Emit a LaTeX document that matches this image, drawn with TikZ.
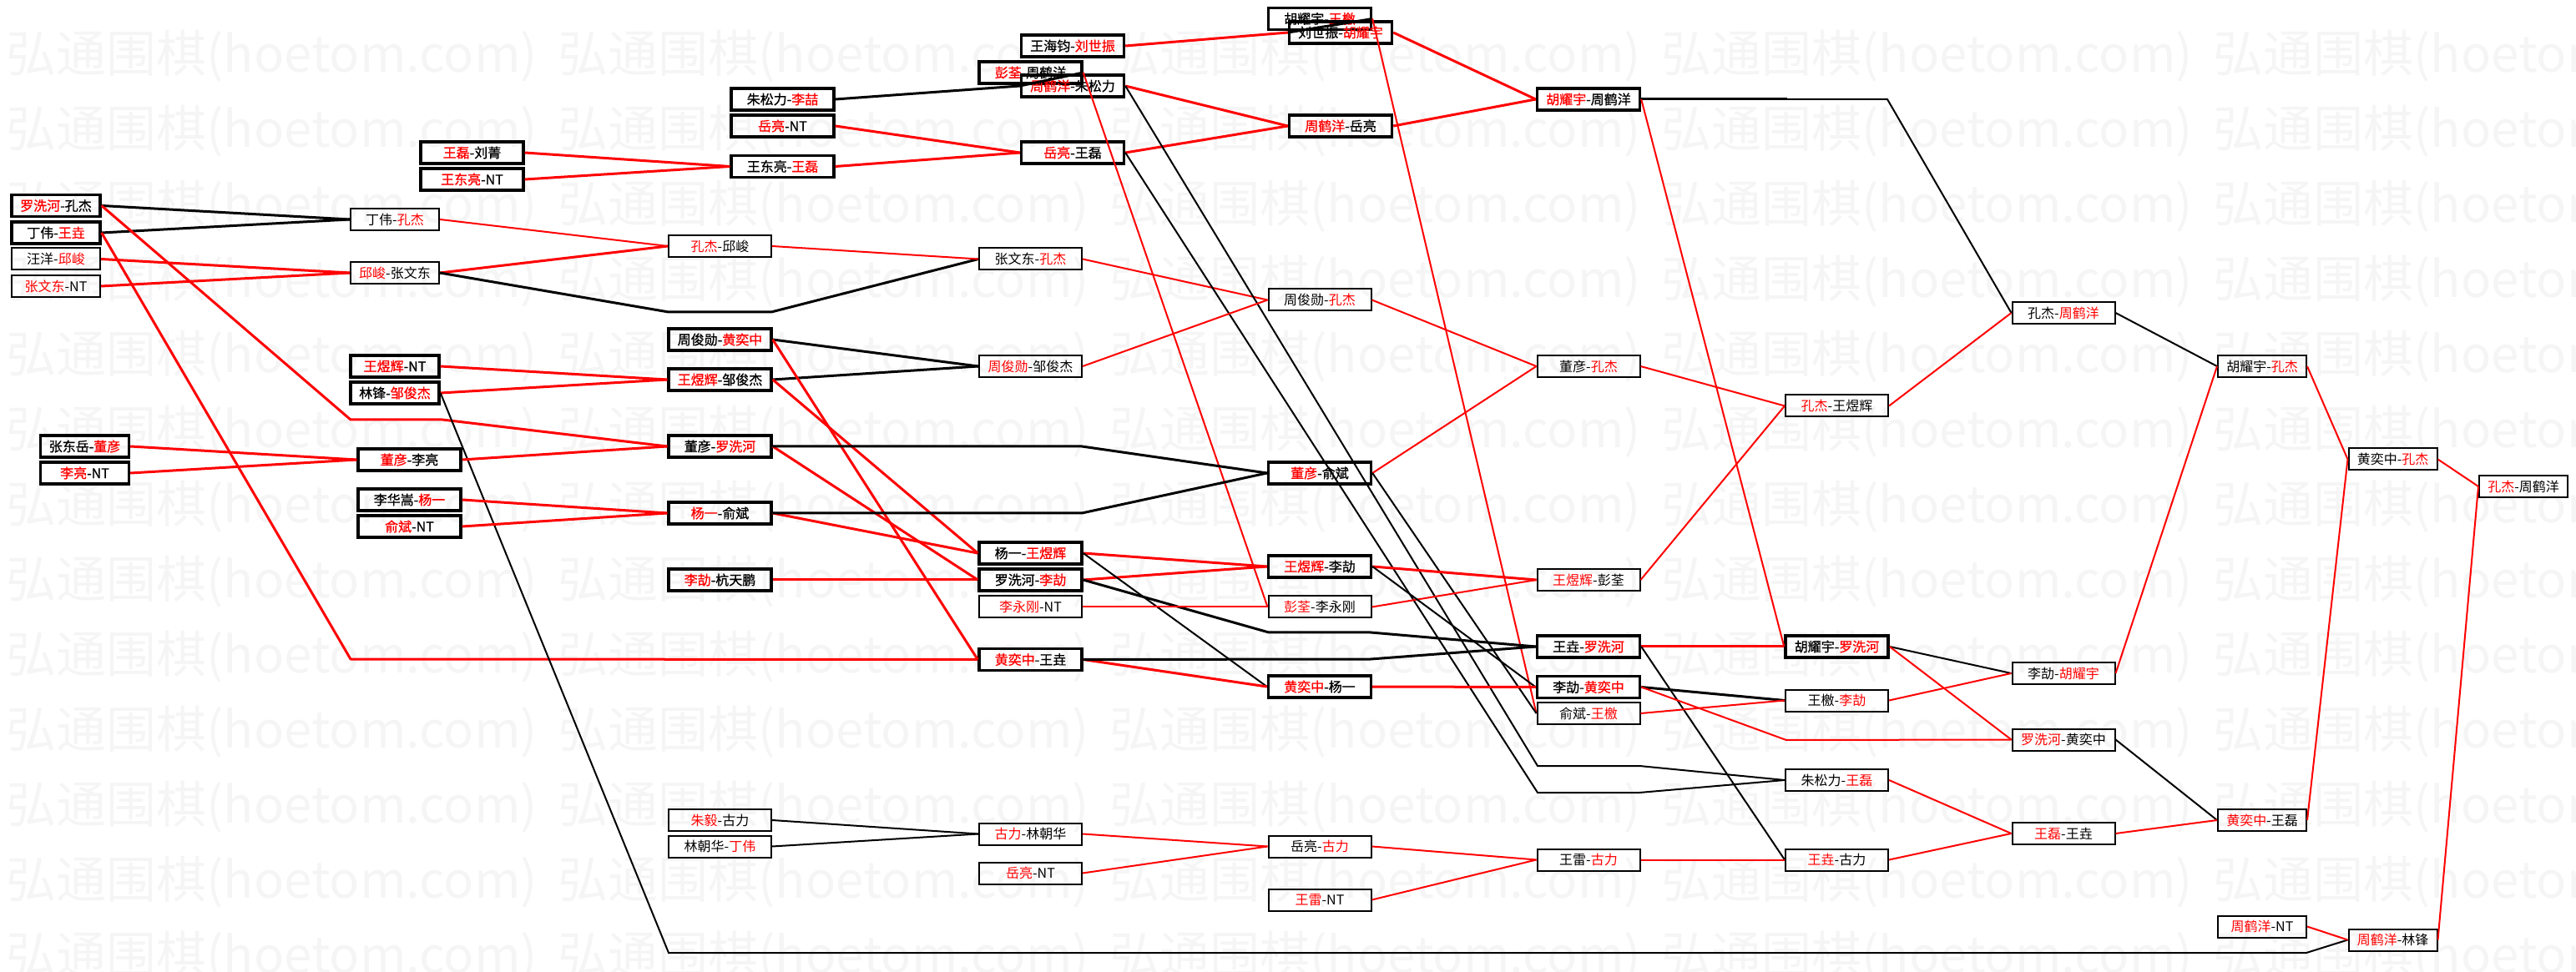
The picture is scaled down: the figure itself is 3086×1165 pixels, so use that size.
\documentclass[tikz,border=0pt]{standalone}
\usepackage{fontspec}
\setmainfont{Noto Sans CJK SC}
\newfontfamily\heavy{Noto Sans CJK SC}[FakeBold=1]
\newcommand{\wn}[1]{\textcolor{red}{#1}}

\begin{document}
\begin{tikzpicture}[x=0.5pt,y=-0.5pt,
  game/.style={draw,line width=1pt,minimum width=53pt,minimum height=13pt,
    inner sep=0pt,font=\fontsize{8}{8}\selectfont},
  bout/.style={game,line width=1.7pt,font=\fontsize{8}{8}\selectfont\heavy},
  wide/.style={minimum width=61.5pt},
  wline/.style={red,line width=1.5pt},
  wthin/.style={red,line width=1pt},
  lline/.style={black,line width=1.5pt},
  lthin/.style={black,line width=1pt},
  wmark/.style={anchor=west,inner sep=0pt,text=black!4,font=\fontsize{30}{30}\selectfont}]
  \useasboundingbox (0,0) rectangle (3086,1165);
  % watermark
  \foreach \i in {0,...,4}
    \foreach \j in {0,...,12}
      \node[wmark] (wm\i\j) at (7+661*\i,67+90*\j) {弘通围棋(hoetom.com)};

  % first column
  \node[bout] (luokong) at (67,246.5) {\wn{罗洗河}-孔杰};
  \node[bout] (dingwang) at (67,279) {丁伟-\wn{王垚}};
  \node[game] (wangqiu) at (67,310.5) {汪洋-\wn{邱峻}};
  \node[game] (zhangnt) at (67,343) {\wn{张文东}-NT};
  \node[bout] (zhangdong) at (101.5,535) {张东岳-\wn{董彦}};
  \node[bout] (lilnt) at (101.5,567) {\wn{李亮}-NT};
  % second column
  \node[bout,wide] (wangliu) at (565.5,183) {\wn{王磊}-刘菁};
  \node[bout,wide] (wangdnt) at (565.5,215) {\wn{王东亮}-NT};
  \node[game] (dingkong) at (473,263) {丁伟-\wn{孔杰}};
  \node[game] (qiuzhang) at (473,327) {\wn{邱峻}-张文东};
  \node[bout] (wangynt) at (473,439) {\wn{王煜辉}-NT};
  \node[bout] (linzou) at (473,471) {林锋-\wn{邹俊杰}};
  \node[bout,wide] (dongli) at (490.5,551) {\wn{董彦}-李亮};
  \node[bout,wide] (liyang) at (490.5,599) {李华嵩-\wn{杨一}};
  \node[bout,wide] (yunt) at (490.5,631) {\wn{俞斌}-NT};
  % third column
  \node[bout,wide] (zhuli) at (937.5,119) {朱松力-\wn{李喆}};
  \node[bout,wide] (yuent) at (937.5,151) {\wn{岳亮}-NT};
  \node[bout,wide] (wdlwl) at (937.5,199.5) {王东亮-\wn{王磊}};
  \node[game,wide] (kongqiu) at (862.5,295) {\wn{孔杰}-邱峻};
  \node[bout,wide] (zhouhuang) at (862.5,407) {周俊勋-\wn{黄奕中}};
  \node[bout,wide] (wangzou) at (862.5,455) {\wn{王煜辉}-邹俊杰};
  \node[bout,wide] (dongluo) at (862.5,535) {董彦-\wn{罗洗河}};
  \node[bout,wide] (yangyu) at (862.5,615) {\wn{杨一}-俞斌};
  \node[bout,wide] (lihang) at (862.5,695) {\wn{李劼}-杭天鹏};
  \node[game,wide] (zhugu) at (862.5,983) {\wn{朱毅}-古力};
  \node[game,wide] (linding) at (862.5,1014.5) {林朝华-\wn{丁伟}};
  % fourth column
  \node[bout,wide] (wangliush) at (1285,55) {王海钧-\wn{刘世振}};
  \node[bout,wide] (pengzhou) at (1234.5,87) {\wn{彭荃}-周鹤洋};
  \node[bout,wide] (zhouzhu) at (1285,103) {\wn{周鹤洋}-朱松力};
  \node[bout,wide] (yuewang) at (1285,183) {\wn{岳亮}-王磊};
  \node[game,wide] (zhangkong) at (1234.5,310.5) {张文东-\wn{孔杰}};
  \node[game,wide] (zhouzou) at (1234.5,439) {\wn{周俊勋}-邹俊杰};
  \node[bout,wide] (yangwang) at (1234.5,663) {杨一-\wn{王煜辉}};
  \node[bout,wide] (luoli) at (1234.5,695) {罗洗河-\wn{李劼}};
  \node[game,wide] (liyongnt) at (1234.5,727.5) {\wn{李永刚}-NT};
  \node[bout,wide] (huangwang) at (1234.5,790.5) {\wn{黄奕中}-王垚};
  \node[game,wide] (gulin) at (1234.5,999.5) {\wn{古力}-林朝华};
  \node[game,wide] (yuent2) at (1234.5,1046.5) {\wn{岳亮}-NT};
  % fifth column
  \node[bout,wide] (huwang) at (1581,22.5) {胡耀宇-\wn{王檄}};
  \node[bout,wide] (liuhu) at (1606,39) {刘世振-\wn{胡耀宇}};
  \node[bout,wide] (zhouyue) at (1606,151) {\wn{周鹤洋}-岳亮};
  \node[game,wide] (zhoukong) at (1581,359.5) {周俊勋-\wn{孔杰}};
  \node[bout,wide] (dongyu) at (1581,567) {\wn{董彦}-俞斌};
  \node[bout,wide] (wangli) at (1581,679) {\wn{王煜辉}-李劼};
  \node[game,wide] (pengli) at (1581,727.5) {\wn{彭荃}-李永刚};
  \node[bout,wide] (huangyang) at (1581,823) {\wn{黄奕中}-杨一};
  \node[game,wide] (yuegu) at (1581,1014.5) {岳亮-\wn{古力}};
  \node[game,wide] (wangleint) at (1581,1078.5) {\wn{王雷}-NT};
  % sixth column
  \node[bout,wide] (huzhou) at (1903,119) {\wn{胡耀宇}-周鹤洋};
  \node[game,wide] (dongkong) at (1903,439) {董彦-\wn{孔杰}};
  \node[game,wide] (wangpeng) at (1903,695) {\wn{王煜辉}-彭荃};
  \node[bout,wide] (wangluo) at (1903,775) {王垚-\wn{罗洗河}};
  \node[bout,wide] (lihuang) at (1903,823.5) {李劼-\wn{黄奕中}};
  \node[game,wide] (yuwang) at (1903,855) {俞斌-\wn{王檄}};
  \node[game,wide] (wanggu) at (1903,1030.5) {王雷-\wn{古力}};
  % seventh column
  \node[game,wide] (kongwang) at (2200.5,486.5) {\wn{孔杰}-王煜辉};
  \node[bout,wide] (huluo) at (2200.5,775) {胡耀宇-\wn{罗洗河}};
  \node[game,wide] (wangxli) at (2200.5,839.5) {王檄-\wn{李劼}};
  \node[game,wide] (zhuwang) at (2200.5,935) {朱松力-\wn{王磊}};
  \node[game,wide] (wangygu) at (2200.5,1030.5) {\wn{王垚}-古力};
  % right side
  \node[game,wide] (kongzhou) at (2472,375) {孔杰-\wn{周鹤洋}};
  \node[game,wide] (lihu) at (2472,807) {李劼-\wn{胡耀宇}};
  \node[game,wide] (luohuang) at (2472,886.5) {\wn{罗洗河}-黄奕中};
  \node[game,wide] (leiyao) at (2472,999) {\wn{王磊}-王垚};
  \node[game] (hukong) at (2710,439) {胡耀宇-\wn{孔杰}};
  \node[game] (huanglei) at (2710,983) {\wn{黄奕中}-王磊};
  \node[game] (zhount) at (2710,1110.5) {\wn{周鹤洋}-NT};
  \node[game] (huangkong) at (2866.5,550.5) {黄奕中-\wn{孔杰}};
  \node[game] (zhoulin) at (2866.5,1126.5) {\wn{周鹤洋}-林锋};
  \node[game] (final) at (3023,583) {\wn{孔杰}-周鹤洋};

  % bends
  \coordinate (b1) at (420,503);
  \coordinate (b2) at (530,503);
  \coordinate (wy) at (420,790);
  \coordinate (zh1) at (801,374);
  \coordinate (zh2) at (924,374);
  \coordinate (lf1) at (801,1142);
  \coordinate (lf2) at (2763,1142);
  \coordinate (dy1) at (1296,535);
  \coordinate (yb1) at (1296,615);
  \coordinate (lx1) at (1520,758);
  \coordinate (lx2) at (1642,758);
  \coordinate (hw1) at (1642,790);
  \coordinate (zs1) at (1842,918);
  \coordinate (zs2) at (1964,918);
  \coordinate (wl1) at (1842,950);
  \coordinate (wl2) at (1964,950);
  \coordinate (lh1) at (2140,887);
  \coordinate (hz1) at (2141,119);
  \coordinate (hz2) at (2261,119);

  % upper left
  \draw[lline] (luokong.east) -- (dingkong.west);
  \draw[lline] (dingwang.east) -- (dingkong.west);
  \draw[wline] (wangqiu.east) -- (qiuzhang.west);
  \draw[wline] (zhangnt.east) -- (qiuzhang.west);
  \draw[wline] (luokong.east) -- (b1) -- (b2) -- (dongluo.west);
  \draw[wline] (dingwang.east) -- (wy) -- (huangwang.west);
  \draw[wthin] (dingkong.east) -- (kongqiu.west);
  \draw[wline] (qiuzhang.east) -- (kongqiu.west);
  \draw[lline] (qiuzhang.east) -- (zh1) -- (zh2) -- (zhangkong.west);
  \draw[wthin] (kongqiu.east) -- (zhangkong.west);
  \draw[wthin] (zhangkong.east) -- (zhoukong.west);
  \draw[wline] (wangliu.east) -- (wdlwl.west);
  \draw[wline] (wangdnt.east) -- (wdlwl.west);
  \draw[lline] (zhuli.east) -- (zhouzhu.west);
  \draw[lline] (pengzhou.east) -- (zhouzhu.west);
  \draw[wline] (yuent.east) -- (yuewang.west);
  \draw[wline] (wdlwl.east) -- (yuewang.west);
  \draw[wline] (wangliush.east) -- (liuhu.west);
  \draw[lline] (huwang.east) -- (liuhu.west);
  \draw[wline] (zhouzhu.east) -- (zhouyue.west);
  \draw[wline] (yuewang.east) -- (zhouyue.west);
  \draw[wline] (liuhu.east) -- (huzhou.west);
  \draw[wline] (zhouyue.east) -- (huzhou.west);
  \draw[lline] (huzhou.east) -- (hz1);
  \draw[lthin] (hz1) -- (hz2) -- (kongzhou.west);
  \draw[wthin] (huzhou.east) -- (huluo.west);
  \draw[wthin] (pengzhou.east) -- (pengli.west);
  \draw[wthin] (huwang.east) -- (yuwang.west);
  \draw[lthin] (zhouzhu.east) -- (zs1) -- (zs2) -- (zhuwang.west);
  \draw[lthin] (yuewang.east) -- (wl1) -- (wl2) -- (zhuwang.west);
  % middle
  \draw[wline] (wangynt.east) -- (wangzou.west);
  \draw[wline] (linzou.east) -- (wangzou.west);
  \draw[lthin] (linzou.east) -- (lf1) -- (lf2) -- (zhoulin.west);
  \draw[wline] (zhangdong.east) -- (dongli.west);
  \draw[wline] (lilnt.east) -- (dongli.west);
  \draw[wline] (dongli.east) -- (dongluo.west);
  \draw[wline] (liyang.east) -- (yangyu.west);
  \draw[wline] (yunt.east) -- (yangyu.west);
  \draw[lline] (zhouhuang.east) -- (zhouzou.west);
  \draw[lline] (wangzou.east) -- (zhouzou.west);
  \draw[wline] (zhouhuang.east) -- (huangwang.west);
  \draw[wline] (wangzou.east) -- (yangwang.west);
  \draw[wline] (yangyu.east) -- (yangwang.west);
  \draw[wline] (dongluo.east) -- (luoli.west);
  \draw[wline] (lihang.east) -- (luoli.west);
  \draw[lline] (dongluo.east) -- (dy1) -- (dongyu.west);
  \draw[lline] (yangyu.east) -- (yb1) -- (dongyu.west);
  \draw[wthin] (zhouzou.east) -- (zhoukong.west);
  \draw[wline] (yangwang.east) -- (wangli.west);
  \draw[wline] (luoli.east) -- (wangli.west);
  \draw[lthin] (yangwang.east) -- (huangyang.west);
  \draw[lline] (luoli.east) -- (lx1) -- (lx2) -- (wangluo.west);
  \draw[wthin] (liyongnt.east) -- (pengli.west);
  \draw[wline] (huangwang.east) -- (huangyang.west);
  \draw[lline] (huangwang.east) -- (hw1) -- (wangluo.west);
  \draw[wthin] (zhoukong.east) -- (dongkong.west);
  \draw[wthin] (dongyu.east) -- (dongkong.west);
  \draw[lthin] (dongyu.east) -- (yuwang.west);
  \draw[wline] (wangli.east) -- (wangpeng.west);
  \draw[wthin] (pengli.east) -- (wangpeng.west);
  \draw[lthin] (wangli.east) -- (lihuang.west);
  \draw[wline] (huangyang.east) -- (lihuang.west);
  \draw[wthin] (dongkong.east) -- (kongwang.west);
  \draw[wthin] (wangpeng.east) -- (kongwang.west);
  \draw[wline] (wangluo.east) -- (huluo.west);
  \draw[lthin] (wangluo.east) -- (wangygu.west);
  \draw[lline] (lihuang.east) -- (wangxli.west);
  \draw[wthin] (yuwang.east) -- (wangxli.west);
  \draw[wthin] (lihuang.east) -- (lh1) -- (luohuang.west);
  % bottom
  \draw[lthin] (zhugu.east) -- (gulin.west);
  \draw[lthin] (linding.east) -- (gulin.west);
  \draw[wthin] (gulin.east) -- (yuegu.west);
  \draw[wthin] (yuent2.east) -- (yuegu.west);
  \draw[wthin] (yuegu.east) -- (wanggu.west);
  \draw[wthin] (wangleint.east) -- (wanggu.west);
  \draw[wthin] (wanggu.east) -- (wangygu.west);
  % right
  \draw[wthin] (kongwang.east) -- (kongzhou.west);
  \draw[lthin] (kongzhou.east) -- (hukong.west);
  \draw[lthin] (huluo.east) -- (lihu.west);
  \draw[wthin] (wangxli.east) -- (lihu.west);
  \draw[wthin] (huluo.east) -- (luohuang.west);
  \draw[wthin] (zhuwang.east) -- (leiyao.west);
  \draw[wthin] (wangygu.east) -- (leiyao.west);
  \draw[wthin] (lihu.east) -- (hukong.west);
  \draw[lthin] (luohuang.east) -- (huanglei.west);
  \draw[wthin] (leiyao.east) -- (huanglei.west);
  \draw[wthin] (hukong.east) -- (huangkong.west);
  \draw[wthin] (huanglei.east) -- (huangkong.west);
  \draw[wthin] (zhount.east) -- (zhoulin.west);
  \draw[wthin] (huangkong.east) -- (final.west);
  \draw[wthin] (zhoulin.east) -- (final.west);
\end{tikzpicture}
\end{document}
